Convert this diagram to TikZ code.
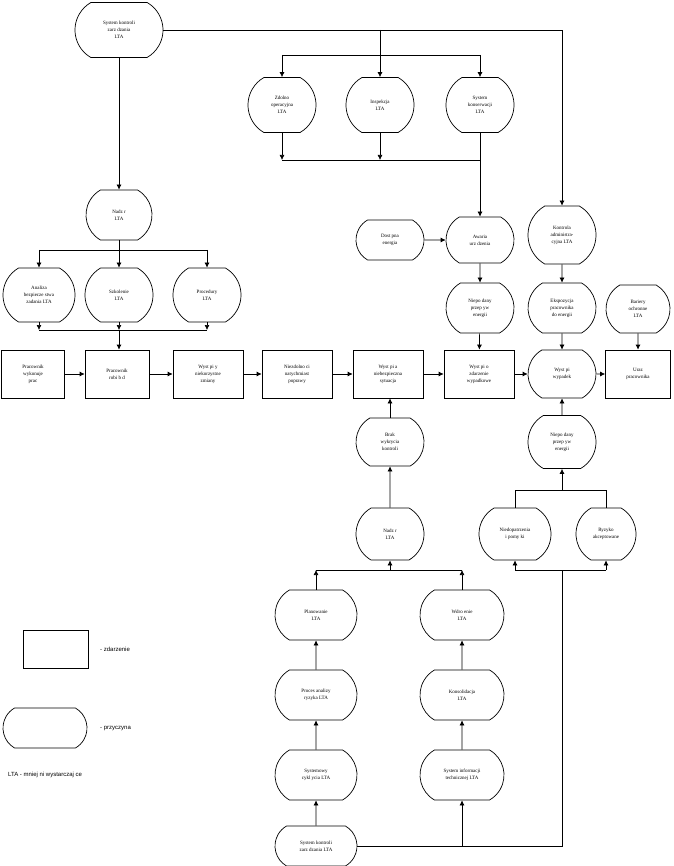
\documentclass[tikz,border=0pt]{standalone}
\usepackage{fontspec}
\setmainfont{Liberation Serif}
\setsansfont{Liberation Sans}
\usetikzlibrary{shapes.misc,arrows.meta}

\begin{document}
\begin{tikzpicture}[x=1pt,y=-1pt,
  zdarz/.style={draw,line width=0.7pt,minimum width=68pt,minimum height=48pt,align=center,font=\fontsize{5}{7}\selectfont,inner sep=1pt},
  przycz/.style={draw,rounded rectangle,rounded rectangle arc length=120,line width=0.7pt,minimum width=70pt,minimum height=52pt,align=center,font=\fontsize{5}{7}\selectfont,inner sep=1pt},
  strz/.style={-{Latex[length=5pt,width=5pt]},line width=0.7pt},
  lin/.style={line width=0.7pt},
  opis/.style={anchor=west,font=\sffamily\fontsize{6}{8}\selectfont,inner sep=0pt}]
\useasboundingbox (0,0) rectangle (673,866);
% przyczyny - gora
\node[przycz,minimum width=90pt,minimum height=55pt] (skz) at (119,30) {System kontroli\\zarz dzania\\LTA};
\node[przycz,minimum height=55pt] (zdol) at (282,105) {Zdolno\\operacyjna\\LTA};
\node[przycz,minimum height=55pt] (insp) at (380,105) {Inspekcja\\LTA};
\node[przycz,minimum height=55pt] (kons) at (480,105) {System\\konserwacji\\LTA};
\node[przycz,minimum width=68pt,minimum height=50pt] (nadz) at (119,215) {Nadz r\\LTA};
\node[przycz,minimum width=74pt,minimum height=54pt] (anal) at (39,295) {Analiza\\bezpiecze stwa\\zadania LTA};
\node[przycz,minimum height=54pt] (szkol) at (119,295) {Szkolenie\\LTA};
\node[przycz,minimum height=54pt] (proc) at (207,295) {Procedury\\LTA};
\node[przycz,minimum height=40pt] (dost) at (390,240) {Dost pna\\energia};
\node[przycz,minimum height=46pt] (awar) at (480,240) {Awaria\\urz dzenia};
\node[przycz,minimum height=58pt] (kontr) at (562,235) {Kontrola\\administra-\\cyjna LTA};
\node[przycz,minimum height=50pt] (niep1) at (480,308) {Niepo dany\\przep yw\\energii};
\node[przycz,minimum height=50pt] (eksp) at (562,308) {Ekspozycja\\pracownika\\do energii};
\node[przycz,minimum width=66pt,minimum height=48pt] (bar) at (638,309) {Bariery\\ochronne\\LTA};
% zdarzenia
\node[zdarz,minimum width=63pt] (wyk) at (33,374) {Pracownik\\wykonuje\\prac };
\node[zdarz,minimum width=64pt] (blad) at (117,374) {Pracownik\\robi b  d};
\node[zdarz,minimum width=70pt] (zmia) at (208,374) {Wyst pi y\\niekorzystne\\zmiany};
\node[zdarz,minimum width=70pt] (niezd) at (297,374) {Niezdolno ci\\natychmiast\\poprawy};
\node[zdarz,minimum width=70pt] (niebez) at (388,374) {Wyst pi a\\niebezpieczna\\sytuacja};
\node[zdarz,minimum width=70pt] (zdarz) at (479,374) {Wyst pi o\\zdarzenie\\wypadkowe};
\node[przycz,minimum height=48pt] (wyp) at (562,374) {Wyst pi\\wypadek};
\node[zdarz,minimum width=65pt] (uraz) at (638,374) {Uraz\\pracownika};
% przyczyny - dol
\node[przycz,minimum height=48pt] (brak) at (390,442) {Brak\\wykrycia\\kontroli};
\node[przycz,minimum height=53pt] (niep2) at (562,442) {Niepo dany\\przep yw\\energii};
\node[przycz,minimum height=52pt] (nadz2) at (390,534) {Nadz r\\LTA};
\node[przycz,minimum width=74pt,minimum height=52pt] (niedop) at (515,534) {Niedopatrzenia\\i pomy ki};
\node[przycz,minimum width=62pt,minimum height=52pt] (ryz) at (606,534) {Ryzyko\\akceptowane};
\node[przycz,minimum width=84pt,minimum height=50pt] (plan) at (316,615) {Planowanie\\LTA};
\node[przycz,minimum width=86pt,minimum height=50pt] (wdro) at (462,615) {Wdro enie\\LTA};
\node[przycz,minimum width=84pt,minimum height=50pt] (anryz) at (316,695) {Proces analizy\\ryzyka LTA};
\node[przycz,minimum width=86pt,minimum height=50pt] (konsol) at (462,695) {Konsolidacja\\LTA};
\node[przycz,minimum width=84pt,minimum height=50pt] (cykl) at (316,775) {Systemowy\\cykl ycia LTA};
\node[przycz,minimum width=86pt,minimum height=50pt] (sinf) at (462,775) {System informacji\\technicznej LTA};
\node[przycz,minimum width=84pt,minimum height=40pt] (skz2) at (316,846) {System kontroli\\zarz dzania LTA};
% legenda
\node[zdarz,minimum width=65pt,minimum height=38pt] (lzd) at (55.5,649) {};
\node[opis] (tzd) at (100,649) {- zdarzenie};
\node[przycz,minimum width=86pt,minimum height=40pt] (lpr) at (45,728) {};
\node[opis] (tpr) at (100,728) {- przyczyna};
\node[opis] (tlta) at (8,775) {LTA - mniej ni wystarczaj ce};
% punkty rozgalezien
\coordinate (gA) at (380,30);
\coordinate (t1) at (282,55);
\coordinate (t2) at (380,55);
\coordinate (t3) at (480,55);
\coordinate (d1) at (282,160);
\coordinate (d2) at (380,160);
\coordinate (d3) at (480,160);
\coordinate (n1) at (39,250);
\coordinate (n2) at (119,250);
\coordinate (n3) at (207,250);
\coordinate (m1) at (39,330);
\coordinate (m2) at (119,330);
\coordinate (m3) at (207,330);
\coordinate (u1) at (515,490);
\coordinate (u2) at (562,490);
\coordinate (u3) at (606,490);
\coordinate (w1) at (515,570);
\coordinate (w2) at (562,570);
\coordinate (w3) at (606,570);
\coordinate (v1) at (316,570);
\coordinate (v2) at (390,570);
\coordinate (v3) at (462,570);
\coordinate (b1) at (462,846);
\coordinate (b2) at (562,846);
% polaczenia
\draw[strz] (skz.east) -| (kontr.north);
\draw[lin] (gA) -- (t2);
\draw[lin] (t1) -- (t3);
\foreach \p/\q in {t1/zdol,t2/insp,t3/kons}
  \draw[strz] (\p) -- (\q.north);
\draw[strz] (zdol.south) -- (d1);
\draw[strz] (insp.south) -- (d2);
\draw[lin] (d1) -- (d3);
\draw[strz] (kons.south) -- (awar.north);
\draw[strz] (skz.south) -- (nadz.north);
\draw[lin] (nadz.south) -- (n2);
\draw[lin] (n1) -- (n3);
\foreach \p/\q in {n1/anal,n2/szkol,n3/proc}
  \draw[strz] (\p) -- (\q.north);
\foreach \p/\q in {anal/m1,szkol/m2,proc/m3}
  \draw[strz] (\p.south) -- (\q);
\draw[lin] (m1) -- (m3);
\draw[strz] (m2) -- (m2 |- blad.north);
\foreach \p/\q in {wyk/blad,blad/zmia,zmia/niezd,niezd/niebez,niebez/zdarz,zdarz/wyp,wyp/uraz}
  \draw[strz] (\p) -- (\q);
\draw[strz] (dost) -- (awar);
\draw[strz] (awar) -- (niep1);
\draw[strz] (niep1) -- (zdarz);
\draw[strz] (kontr) -- (eksp);
\draw[strz] (eksp) -- (wyp);
\draw[strz] (bar) -- (uraz);
\draw[strz] (brak.north) -- (niebez.south -| brak.north);
\draw[strz] (nadz2) -- (brak);
\draw[strz] (niep2) -- (wyp);
\draw[strz] (u2) -- (niep2.south);
\draw[lin] (u1) -- (u3);
\draw[lin] (niedop.north) -- (u1);
\draw[lin] (ryz.north) -- (u3);
\draw[lin] (w1) -- (w3);
\draw[strz] (w1) -- (niedop.south);
\draw[strz] (w3) -- (ryz.south);
\draw[strz] (plan.north) -- (v1);
\draw[strz] (wdro.north) -- (v3);
\draw[lin] (v1) -- (v3);
\draw[strz] (v2) -- (nadz2.south);
\draw[strz] (anryz) -- (plan);
\draw[strz] (konsol) -- (wdro);
\draw[strz] (cykl) -- (anryz);
\draw[strz] (sinf) -- (konsol);
\draw[strz] (skz2) -- (cykl);
\draw[lin] (skz2.east) -- (b2) -- (w2);
\draw[strz] (b1) -- (sinf.south);
\end{tikzpicture}
\end{document}
